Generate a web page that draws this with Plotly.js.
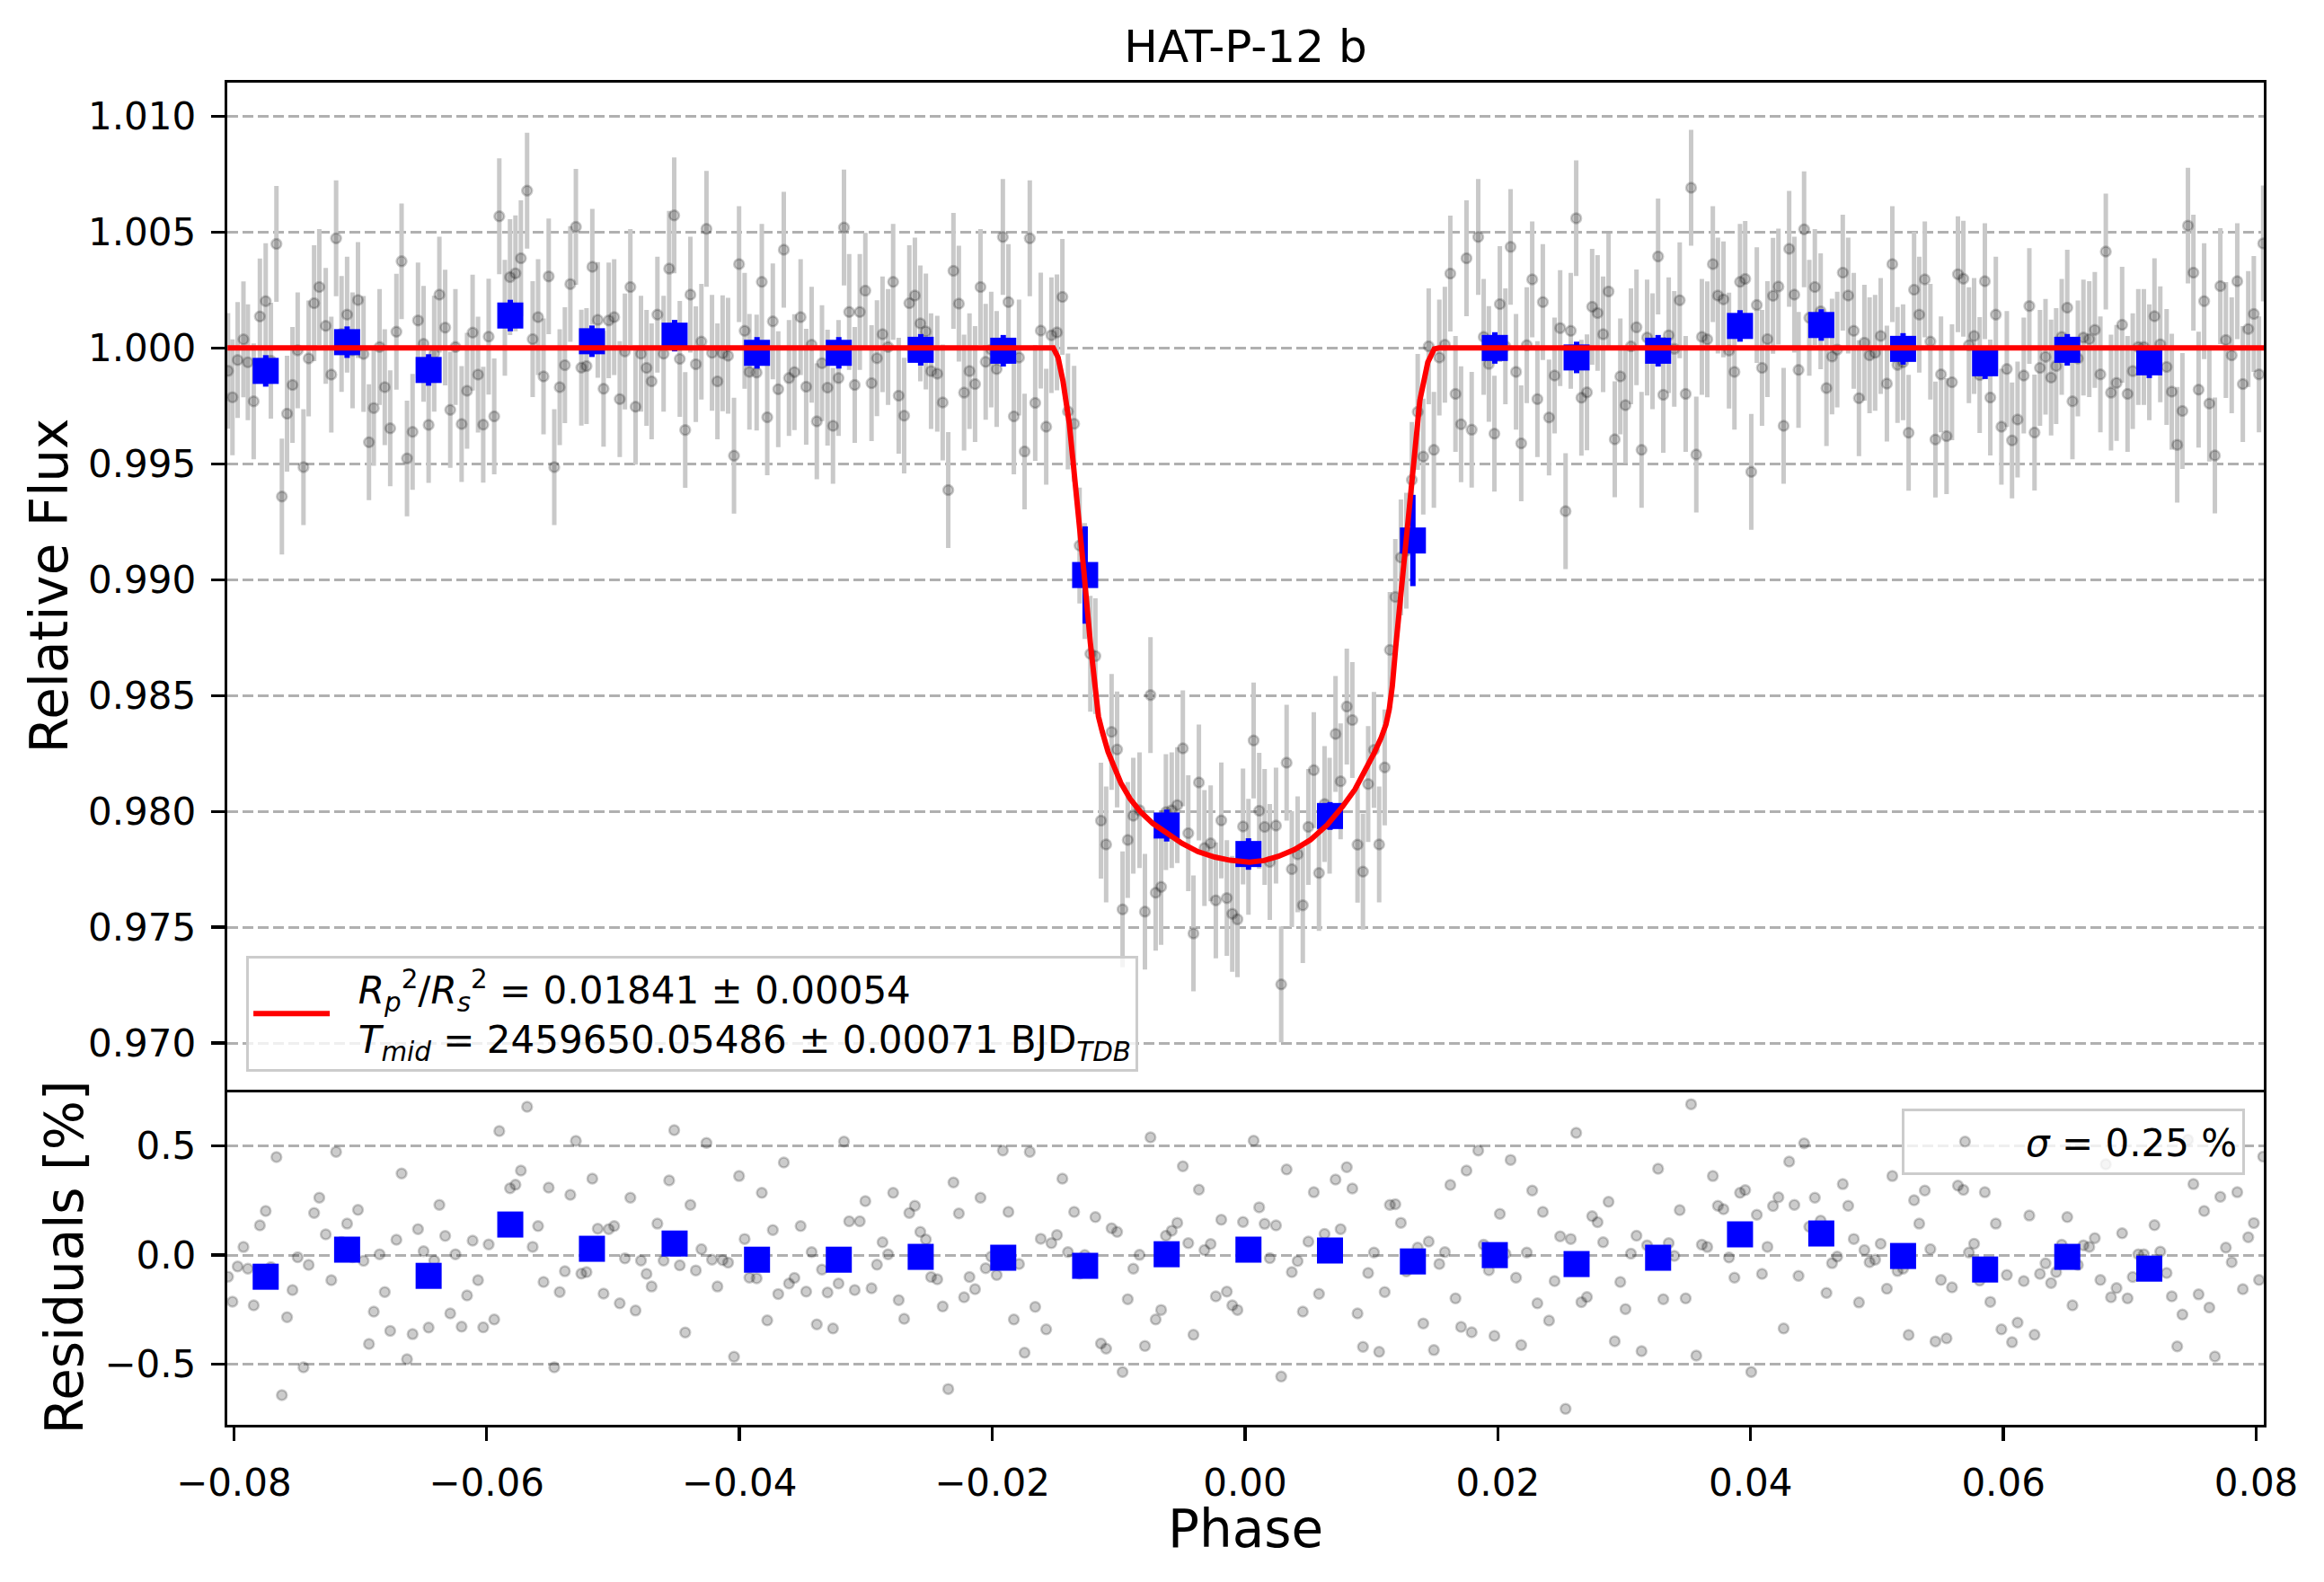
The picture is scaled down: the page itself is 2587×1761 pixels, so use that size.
<!DOCTYPE html>
<html>
<head>
<meta charset="utf-8">
<script src="https://cdn.plot.ly/plotly-3.0.1.min.js"></script>
<style>
  html, body { margin: 0; padding: 0; background: #fff; }
  #chart { width: 2587px; height: 1761px; }
</style>
</head>
<body>
<div id="chart"></div>
<script>
// unbinned light curve points (phase, relative flux, residual in %)
const phase = [
  -0.08046,-0.08011,-0.07970,-0.07924,-0.07889,-0.07843,-0.07794,-0.07748,-0.07707,-0.07663,
  -0.07620,-0.07579,-0.07536,-0.07495,-0.07449,-0.07408,-0.07365,-0.07324,-0.07273,-0.07229,
  -0.07191,-0.07148,-0.07104,-0.07061,-0.07018,-0.06974,-0.06931,-0.06893,-0.06847,-0.06806,
  -0.06763,-0.06714,-0.06673,-0.06630,-0.06586,-0.06543,-0.06499,-0.06459,-0.06415,-0.06374,
  -0.06328,-0.06288,-0.06247,-0.06198,-0.06155,-0.06111,-0.06068,-0.06027,-0.05984,-0.05940,
  -0.05900,-0.05856,-0.05815,-0.05772,-0.05729,-0.05680,-0.05636,-0.05593,-0.05550,-0.05509,
  -0.05465,-0.05422,-0.05381,-0.05338,-0.05294,-0.05251,-0.05210,-0.05164,-0.05121,-0.05075,
  -0.05034,-0.04991,-0.04947,-0.04906,-0.04863,-0.04822,-0.04779,-0.04735,-0.04695,-0.04649,
  -0.04600,-0.04556,-0.04516,-0.04472,-0.04429,-0.04388,-0.04345,-0.04301,-0.04261,-0.04217,
  -0.04174,-0.04133,-0.04090,-0.04043,-0.04003,-0.03959,-0.03921,
  -0.03864,-0.03823,-0.03780,-0.03736,-0.03693,-0.03649,-0.03608,-0.03565,-0.03516,-0.03472,
  -0.03429,-0.03388,-0.03347,-0.03303,-0.03260,-0.03216,-0.03173,-0.03132,-0.03088,-0.03048,
  -0.03004,-0.02955,-0.02912,-0.02868,-0.02824,-0.02784,-0.02740,-0.02697,-0.02656,-0.02612,
  -0.02569,-0.02525,-0.02484,-0.02435,-0.02392,-0.02348,-0.02307,-0.02264,-0.02223,-0.02180,
  -0.02136,-0.02093,-0.02052,-0.02008,-0.01965,-0.01916,-0.01872,-0.01829,-0.01788,-0.01744,
  -0.01703,-0.01660,-0.01616,-0.01573,-0.01532,-0.01488,-0.01445,-0.01401,-0.01352,-0.01309,
  -0.01268,-0.01224,-0.01184,-0.01140,-0.01099,-0.01056,-0.01012,-0.00969,-0.00928,-0.00884,
  -0.00835,-0.00792,-0.00748,-0.00707,-0.00664,-0.00626,-0.00580,-0.00536,-0.00492,-0.00449,
  -0.00408,-0.00365,-0.00321,-0.00272,-0.00231,-0.00188,-0.00144,-0.00101,-0.00060,-0.00016,
  0.00027,0.00068,0.00112,0.00155,0.00196,
  0.00245,0.00286,0.00329,0.00370,0.00416,0.00457,0.00501,0.00544,0.00585,0.00629,
  0.00669,0.00716,0.00756,0.00805,0.00849,0.00890,0.00933,0.00974,0.01020,0.01061,
  0.01105,0.01146,0.01189,0.01233,0.01276,0.01320,0.01366,0.01410,0.01453,0.01494,
  0.01537,0.01581,0.01624,0.01665,0.01709,0.01752,0.01793,0.01845,0.01888,0.01929,
  0.01973,0.02016,0.02060,0.02101,0.02144,0.02185,0.02229,0.02272,0.02313,0.02356,
  0.02405,0.02449,0.02493,0.02536,0.02577,0.02620,0.02661,0.02705,0.02746,0.02789,
  0.02833,0.02876,0.02925,0.02969,0.03010,0.03053,0.03097,0.03137,0.03181,0.03224,
  0.03268,0.03309,0.03352,0.03396,0.03439,0.03486,0.03529,0.03570,0.03614,0.03657,
  0.03701,0.03741,0.03785,0.03829,0.03872,0.03916,0.03957,0.04005,0.04049,0.04090,
  0.04133,0.04177,0.04220,0.04261,0.04305,0.04346,
  0.04379,0.04423,0.04464,0.04508,0.04554,0.04600,0.04644,0.04685,0.04729,0.04772,
  0.04816,0.04857,0.04900,0.04941,0.04985,0.05029,0.05078,0.05121,0.05162,0.05206,
  0.05250,0.05293,0.05334,0.05378,0.05422,0.05462,0.05506,0.05550,0.05593,0.05640,
  0.05683,0.05727,0.05768,0.05812,0.05853,0.05896,0.05940,0.05984,0.06027,0.06068,
  0.06112,0.06161,0.06205,0.06246,0.06289,0.06333,0.06377,0.06417,0.06461,0.06505,
  0.06546,0.06589,0.06633,0.06679,0.06723,0.06767,0.06810,0.06851,0.06895,0.06939,
  0.06982,0.07023,0.07067,0.07111,0.07154,0.07195,0.07241,0.07291,0.07332,0.07375,
  0.07416,0.07460,0.07503,0.07544,0.07588,0.07629,0.07673,0.07716,0.07760,0.07806,
  0.07850,0.07894,0.07937,0.07981,0.08022,0.08055
];

const flux = [
  0.99901,0.99787,0.99948,1.00037,0.99938,0.99770,1.00136,1.00202,0.99945,1.00449,
  0.99359,0.99716,0.99840,0.99990,0.99486,0.99955,1.00193,1.00263,1.00095,0.99885,
  1.00473,1.00060,1.00144,0.99990,1.00207,0.99974,0.99593,0.99741,1.00004,0.99831,
  0.99653,1.00070,1.00374,0.99523,0.99638,1.00119,1.00018,0.99668,0.99975,1.00230,
  1.00088,0.99733,1.00004,0.99672,0.99815,1.00066,0.99885,0.99669,1.00049,0.99705,
  1.00568,1.00130,1.00306,1.00322,1.00387,1.00679,1.00038,1.00133,0.99877,1.00309,
  0.99486,0.99831,0.99926,1.00276,1.00523,0.99915,0.99922,1.00350,1.00121,0.99824,
  1.00119,1.00133,0.99779,0.99985,1.00263,0.99746,0.99975,0.99914,0.99856,1.00144,
  0.99975,1.00342,1.00572,0.99953,0.99646,1.00230,0.99930,1.00027,1.00514,0.99979,
  0.99856,0.99977,0.99966,0.99535,1.00362,1.00074,0.99897,
  0.99894,1.00285,0.99701,1.00115,0.99822,1.00424,0.99870,0.99896,1.00133,0.99833,
  1.00014,0.99683,0.99934,0.99829,0.99664,0.99870,1.00520,1.00155,0.99840,1.00155,
  1.00247,0.99848,0.99956,1.00059,1.00004,1.00285,0.99794,0.99708,1.00193,1.00226,
  1.00106,1.00071,0.99900,0.99889,0.99765,0.99387,1.00333,1.00191,0.99807,0.99900,
  0.99844,1.00263,0.99940,0.99993,0.99909,1.00479,1.00198,0.99705,0.99959,0.99553,
  1.00473,0.99763,1.00075,0.99660,1.00055,1.00067,1.00220,0.99726,0.99673,0.99147,
  0.98994,0.98680,0.98670,0.97960,0.97857,0.98343,0.98267,0.97577,0.97877,0.97981,
  0.98005,0.97567,0.98502,0.97649,0.97674,0.97997,0.98005,0.98027,0.98272,0.97906,
  0.97473,0.98125,0.97842,0.97862,0.97616,0.97961,0.97626,0.97558,0.97534,0.97935,
  0.97804,0.98306,0.98003,0.97933,0.97782,
  0.97939,0.97253,0.98210,0.97751,0.97815,0.97595,0.97933,0.98178,0.97734,0.98032,
  0.97981,0.98334,0.98130,0.98452,0.98394,0.97856,0.97740,0.98118,0.98265,0.97857,
  0.98190,0.98697,0.98925,0.99096,0.99125,0.99430,0.99724,0.99531,1.00007,0.99560,
  0.99959,1.00014,1.00321,0.99802,0.99671,1.00387,0.99647,1.00479,1.00048,0.99931,
  0.99630,1.00189,1.00007,1.00436,0.99897,0.99588,1.00012,1.00296,0.99779,1.00198,
  0.99700,0.99881,1.00086,0.99296,1.00074,1.00560,0.99785,0.99808,1.00178,1.00151,
  1.00059,1.00244,0.99606,0.99877,0.99753,1.00007,1.00089,0.99560,1.00045,0.99986,
  1.00395,0.99798,1.00055,0.99996,1.00206,0.99802,1.00691,0.99540,1.00048,1.00037,
  1.00362,1.00226,1.00210,0.99989,0.99897,1.00285,1.00298,0.99465,1.00185,0.99914,
  1.00038,1.00225,1.00265,0.99664,1.00428,1.00230,
  0.99905,1.00512,1.00130,1.00263,1.00158,0.99827,0.99963,0.99993,1.00325,1.00226,
  1.00074,0.99783,1.00023,0.99968,0.99979,1.00052,0.99846,1.00362,0.99927,0.99938,
  0.99634,1.00251,1.00144,1.00296,1.00027,0.99605,0.99886,0.99619,0.99852,1.00318,
  1.00299,1.00012,1.00052,0.99883,1.00288,0.99786,1.00144,0.99660,0.99909,0.99601,
  0.99691,0.99881,1.00181,0.99635,0.99914,0.99962,0.99872,0.99922,1.00048,1.00174,
  0.99770,0.99955,1.00045,1.00038,1.00078,0.99886,1.00416,0.99807,0.99849,1.00100,
  0.99802,0.99900,1.00004,1.00004,0.99938,1.00137,1.00016,0.99918,0.99811,0.99582,
  0.99728,1.00528,1.00325,0.99820,1.00202,0.99760,0.99536,1.00267,1.00034,0.99968,
  1.00288,0.99844,1.00082,1.00147,0.99886,1.00451
];

const resid = [
  -0.099,-0.213,-0.052,0.037,-0.062,-0.230,0.136,0.202,-0.055,0.449,
  -0.641,-0.284,-0.160,-0.010,-0.514,-0.045,0.193,0.263,0.095,-0.115,
  0.473,0.060,0.144,-0.010,0.207,-0.026,-0.407,-0.259,0.004,-0.169,
  -0.347,0.070,0.374,-0.477,-0.362,0.119,0.018,-0.332,-0.025,0.230,
  0.088,-0.267,0.004,-0.328,-0.185,0.066,-0.115,-0.331,0.049,-0.295,
  0.568,0.130,0.306,0.322,0.387,0.679,0.038,0.133,-0.123,0.309,
  -0.514,-0.169,-0.074,0.276,0.523,-0.085,-0.078,0.350,0.121,-0.176,
  0.119,0.133,-0.221,-0.015,0.263,-0.254,-0.025,-0.086,-0.144,0.144,
  -0.025,0.342,0.572,-0.047,-0.354,0.230,-0.070,0.027,0.514,-0.021,
  -0.144,-0.023,-0.034,-0.465,0.362,0.074,-0.103,
  -0.106,0.285,-0.299,0.115,-0.178,0.424,-0.130,-0.104,0.133,-0.167,
  0.014,-0.317,-0.066,-0.171,-0.336,-0.130,0.520,0.155,-0.160,0.155,
  0.247,-0.152,-0.044,0.059,0.004,0.285,-0.206,-0.292,0.193,0.226,
  0.106,0.071,-0.100,-0.111,-0.235,-0.613,0.333,0.191,-0.193,-0.100,
  -0.156,0.263,-0.060,-0.007,-0.091,0.479,0.198,-0.295,-0.041,-0.447,
  0.473,-0.237,0.075,-0.340,0.055,0.092,0.350,0.014,0.198,-0.085,
  0.000,-0.048,0.174,-0.405,-0.428,0.123,0.106,-0.535,-0.202,-0.062,
  0.001,-0.416,0.539,-0.295,-0.251,0.089,0.112,0.148,0.407,0.055,
  -0.365,0.300,0.023,0.051,-0.189,0.162,-0.167,-0.230,-0.251,0.152,
  0.023,0.524,0.219,0.143,-0.014,
  0.136,-0.556,0.392,-0.078,-0.027,-0.259,0.062,0.288,-0.177,0.097,
  0.021,0.346,0.119,0.403,0.305,-0.267,-0.420,-0.082,0.012,-0.443,
  -0.169,0.230,0.233,0.148,-0.075,-0.021,0.034,-0.313,0.062,-0.435,
  -0.041,0.014,0.321,-0.198,-0.329,0.387,-0.353,0.479,0.048,-0.069,
  -0.370,0.189,0.007,0.436,-0.103,-0.412,0.012,0.296,-0.221,0.198,
  -0.300,-0.119,0.086,-0.704,0.074,0.560,-0.215,-0.192,0.178,0.151,
  0.059,0.244,-0.394,-0.123,-0.247,0.007,0.089,-0.440,0.045,-0.014,
  0.395,-0.202,0.055,-0.004,0.206,-0.198,0.691,-0.460,0.048,0.037,
  0.362,0.226,0.210,-0.011,-0.103,0.285,0.298,-0.535,0.185,-0.086,
  0.038,0.225,0.265,-0.336,0.428,0.230,
  -0.095,0.512,0.130,0.263,0.158,-0.173,-0.037,-0.007,0.325,0.226,
  0.074,-0.217,0.023,-0.032,-0.021,0.052,-0.154,0.362,-0.073,-0.062,
  -0.366,0.251,0.144,0.296,0.027,-0.395,-0.114,-0.381,-0.148,0.318,
  0.299,0.012,0.052,-0.117,0.288,-0.214,0.144,-0.340,-0.091,-0.399,
  -0.309,-0.119,0.181,-0.365,-0.086,-0.038,-0.128,-0.078,0.048,0.174,
  -0.230,-0.045,0.045,0.038,0.078,-0.114,0.416,-0.193,-0.151,0.100,
  -0.198,-0.100,0.004,0.004,-0.062,0.137,0.016,-0.082,-0.189,-0.418,
  -0.272,0.528,0.325,-0.180,0.202,-0.240,-0.464,0.267,0.034,-0.032,
  0.288,-0.156,0.082,0.147,-0.114,0.451
];

const fluxErr = 0.0025;

// binned points
const binPhase = [
  -0.07748,-0.07104,-0.06459,-0.05813,-0.05167,-0.04513,-0.03861,-0.03214,
  -0.02566,-0.01913,-0.01265,-0.00620,0.00027,0.00672,0.01328,0.01976,
  0.02623,0.03268,0.03916,0.04559,0.05206,0.05855,0.06505,0.07154
];
const binFlux = [
  0.99901,1.00025,0.99905,1.00140,1.00029,1.00053,0.99979,0.99979,
  0.99992,0.99988,0.99020,0.97939,0.97816,0.97980,0.99169,1.00000,
  0.99959,0.99988,1.00095,1.00099,0.99996,0.99934,0.99992,0.99938
];
const binFluxErr = [
  0.00068,0.00068,0.00068,0.00068,0.00068,0.00068,0.00068,0.00068,
  0.00068,0.00068,0.00210,0.00069,0.00068,0.00060,0.00197,0.00068,
  0.00068,0.00068,0.00068,0.00068,0.00068,0.00068,0.00068,0.00068
];
const binResid = [
  -0.099,0.025,-0.095,0.140,0.029,0.053,-0.021,-0.021,
  -0.008,-0.012,-0.049,0.004,0.025,0.021,-0.029,0.000,
  -0.041,-0.012,0.095,0.099,-0.004,-0.066,-0.008,-0.062
];

// transit model curve
const modelPhase = [
  -0.0805,-0.01517,-0.01479,-0.01440,-0.01390,-0.01339,-0.01275,-0.01224,-0.01186,-0.01160,
  -0.01130,-0.01084,-0.01030,-0.00983,-0.00910,-0.00830,-0.00730,-0.00627,-0.00500,-0.00372,
  -0.00240,-0.00118,0.00035,0.00150,0.00264,0.00390,0.00518,0.00650,0.00772,0.00870,
  0.00950,0.01020,0.01077,0.01115,0.01141,0.01165,0.01192,0.01255,0.01319,0.01383,
  0.01446,0.01497,0.01535,0.0806
];
const modelFlux = [
  1.0,1.0,0.99959,0.99856,0.99672,0.99405,0.99036,0.98728,0.98503,0.98410,
  0.98345,0.98257,0.98185,0.98123,0.98055,0.98000,0.97948,0.97908,0.97862,0.97826,
  0.97803,0.97789,0.97781,0.97788,0.97806,0.97835,0.97877,0.97942,0.98021,0.98095,
  0.98175,0.98250,0.98318,0.98375,0.98441,0.98540,0.98708,0.99077,0.99446,0.99774,
  0.99938,0.99996,1.0,1.0
];

const fitLabel = '\u00a0\u00a0<i>R</i><sub><i>p</i></sub><sup>2</sup>/<i>R</i><sub><i>s</i></sub><sup>2</sup> = 0.01841 ± 0.00054' +
  '<br>\u00a0\u00a0<i>T</i><sub><i>mid</i></sub> = 2459650.05486 ± 0.00071 BJD<sub><i>TDB</i></sub>';
const sigmaLabel = '<i>σ</i> = 0.25 %';

const ptColor = 'rgba(0,0,0,0.2)';

const data = [
  {
    x: phase, y: flux, type: 'scatter', mode: 'markers',
    xaxis: 'x2', yaxis: 'y', showlegend: false,
    marker: { size: 11, color: ptColor, line: { color: ptColor, width: 2.5 } },
    error_y: { type: 'constant', value: fluxErr, color: '#c9c9c9', thickness: 5, width: 0 },
  },
  {
    x: binPhase, y: binFlux, type: 'scatter', mode: 'markers',
    xaxis: 'x2', yaxis: 'y', showlegend: false,
    marker: { symbol: 'square', size: 29, color: '#0000ff' },
    error_y: { type: 'data', array: binFluxErr, color: '#0000ff', thickness: 6, width: 0 },
  },
  {
    x: modelPhase, y: modelFlux, type: 'scatter', mode: 'lines',
    xaxis: 'x2', yaxis: 'y', name: fitLabel, legend: 'legend',
    line: { color: '#ff0000', width: 6, shape: 'linear' },
  },
  {
    x: phase, y: resid, type: 'scatter', mode: 'markers',
    xaxis: 'x', yaxis: 'y2', name: sigmaLabel, legend: 'legend2',
    marker: { size: 11, color: ptColor, line: { color: ptColor, width: 2.5 } },
  },
  {
    x: binPhase, y: binResid, type: 'scatter', mode: 'markers',
    xaxis: 'x', yaxis: 'y2', showlegend: false,
    marker: { symbol: 'square', size: 29, color: '#0000ff' },
  },
];

const tickFont = { family: 'DejaVu Sans', size: 42, color: '#000' };
const axisBase = {
  showline: true, linecolor: '#000', linewidth: 3.3, mirror: true,
  zeroline: false, tickfont: tickFont,
};
const splitY = 0.2497;

const layout = {
  width: 2587,
  height: 1761,
  margin: { l: 253, r: 67, t: 92, b: 175 },
  paper_bgcolor: '#fff',
  plot_bgcolor: '#fff',
  font: { family: 'DejaVu Sans', color: '#000' },
  title: {
    text: 'HAT-P-12 b',
    font: { family: 'DejaVu Sans', size: 50, color: '#000' },
    x: 0.5, xref: 'paper', xanchor: 'center',
    y: 1 - 51 / 1761, yref: 'container', yanchor: 'middle',
  },
  xaxis: Object.assign({}, axisBase, {
    anchor: 'y2', domain: [0, 1], mirror: false,
    range: [-0.08052, 0.0806],
    tickmode: 'array',
    tickvals: [-0.08, -0.06, -0.04, -0.02, 0, 0.02, 0.04, 0.06, 0.08],
    tickformat: '.2f',
    ticks: 'outside', ticklen: 15, tickwidth: 3.3, tickcolor: '#000',
    ticklabelstandoff: 10,
    showgrid: false,
  }),
  xaxis2: Object.assign({}, axisBase, {
    anchor: 'y', matches: 'x', domain: [0, 1],
    range: [-0.08052, 0.0806],
    showticklabels: false, ticks: '',
    showgrid: false,
  }),
  yaxis: Object.assign({}, axisBase, {
    anchor: 'x2', domain: [splitY, 1],
    range: [0.96799, 1.01145],
    tickmode: 'array',
    tickvals: [0.970, 0.975, 0.980, 0.985, 0.990, 0.995, 1.000, 1.005, 1.010],
    tickformat: '.3f',
    ticks: 'outside', ticklen: 15, tickwidth: 3.3, tickcolor: '#000',
    ticklabelstandoff: 8,
    showgrid: true, gridcolor: '#b0b0b0', gridwidth: 3, griddash: '12px,5px',
  }),
  yaxis2: Object.assign({}, axisBase, {
    anchor: 'x', domain: [0, splitY],
    range: [-0.777, 0.7576],
    tickmode: 'array',
    tickvals: [-0.5, 0, 0.5],
    tickformat: '.1f',
    ticks: 'outside', ticklen: 15, tickwidth: 3.3, tickcolor: '#000',
    ticklabelstandoff: 8,
    showgrid: true, gridcolor: '#b0b0b0', gridwidth: 3, griddash: '12px,5px',
  }),
  legend: {
    x: 0.0093, y: 0.263, xref: 'paper', yref: 'paper',
    xanchor: 'left', yanchor: 'bottom',
    bgcolor: 'rgba(255,255,255,0.8)', bordercolor: '#cccccc', borderwidth: 3,
    font: { family: 'DejaVu Sans', size: 42, color: '#000' },
    itemwidth: 85,
  },
  legend2: {
    x: 0.9907, y: 0.2356, xref: 'paper', yref: 'paper',
    xanchor: 'right', yanchor: 'top',
    bgcolor: 'rgba(255,255,255,0.8)', bordercolor: '#cccccc', borderwidth: 3,
    font: { family: 'DejaVu Sans', size: 42, color: '#000' },
    itemwidth: 125,
  },
  annotations: [
    {
      text: 'Relative Flux', xref: 'paper', yref: 'paper',
      x: -0.0873, y: (1 + splitY) / 2, xanchor: 'center', yanchor: 'middle',
      textangle: -90, showarrow: false,
      font: { family: 'DejaVu Sans', size: 58, color: '#000' },
    },
    {
      text: 'Residuals [%]', xref: 'paper', yref: 'paper',
      x: -0.0798, y: splitY / 2, xanchor: 'center', yanchor: 'middle',
      textangle: -90, showarrow: false,
      font: { family: 'DejaVu Sans', size: 58, color: '#000' },
    },
    {
      text: 'Phase', xref: 'paper', yref: 'paper',
      x: 0.5, y: -0.0776, xanchor: 'center', yanchor: 'middle',
      showarrow: false,
      font: { family: 'DejaVu Sans', size: 58, color: '#000' },
    },
  ],
};

Plotly.newPlot('chart', data, layout, { displayModeBar: false, staticPlot: true });
</script>
</body>
</html>
